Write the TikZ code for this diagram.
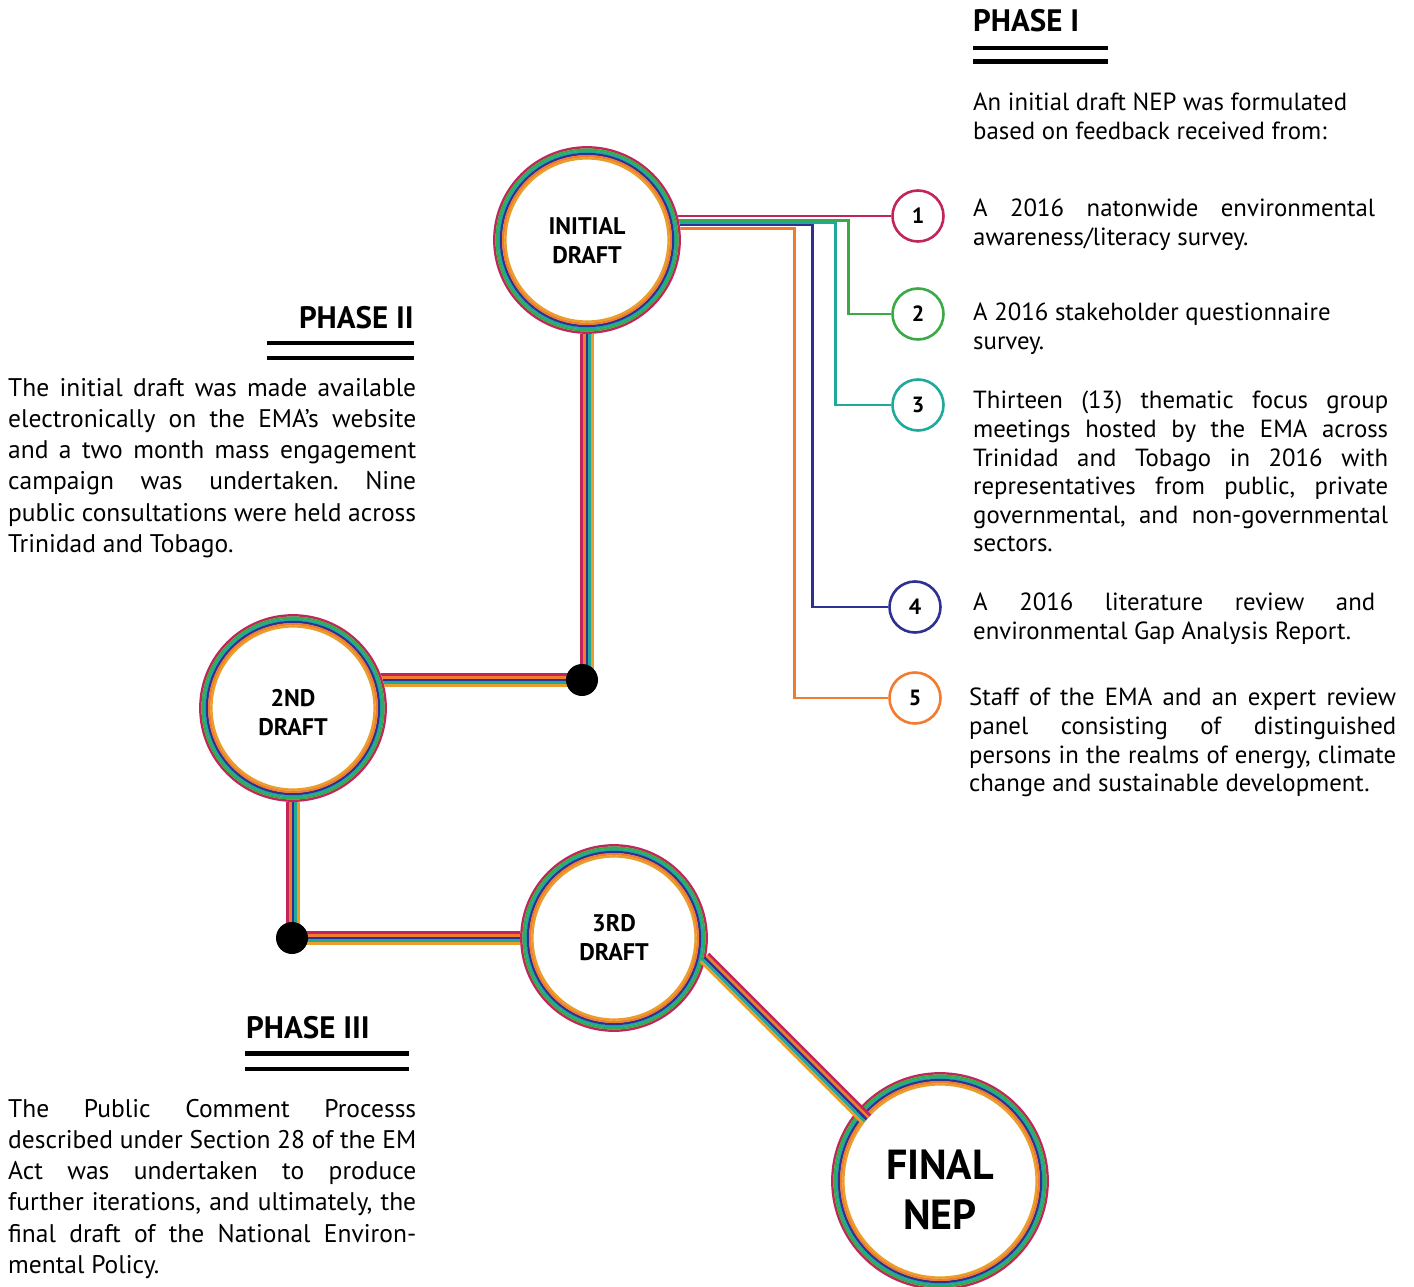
\documentclass[tikz,border=0pt]{standalone}
\usepackage{fontspec}
\setmainfont{PT Sans}
\usetikzlibrary{calc}
\pgfdeclarelayer{bg}
\pgfsetlayers{bg,main}
\frenchspacing
\definecolor{cr}{HTML}{C2255C}
\definecolor{gr}{HTML}{3AAA47}
\definecolor{tl}{HTML}{1FA99B}
\definecolor{bl}{HTML}{2E3092}
\definecolor{orn}{HTML}{F37B2E}
\definecolor{yo}{HTML}{E99E2C}
\newcommand\jl[2]{\makebox[#1][s]{#2}}
\newcommand\ringat[2]{%
  \foreach \c/\d in {cr/1.3, gr/3.6, tl/5.8, bl/8.0, orn/10.2, yo/12.4}{%
    \draw[\c, line width=2.4pt] (#1.center) circle[radius=#2-\d];}}
\newcommand\stripes[4]{%
  \foreach \c [count=\k from -2] in {cr,orn,bl,tl,yo}{%
    \pgfmathsetmacro\sx{\k*(#3)}\pgfmathsetmacro\sy{\k*(#4)}%
    \draw[\c, line width=2.7pt, transform canvas={shift={(\sx,\sy)}}] (#1) -- (#2);}}
\begin{document}
\frenchspacing
\begin{tikzpicture}[x=1pt,y=-1pt,
  draft/.style={circle, fill=white, inner sep=0pt},
  dtext/.style={inner sep=0pt, align=center, font=\bfseries\fontsize{24}{29}\selectfont},
  numc/.style={circle, draw=#1, line width=2.6pt, fill=white, minimum size=51pt, inner sep=0pt, font=\bfseries\fontsize{22}{24}\selectfont},
  dotn/.style={circle, fill=black, minimum size=32pt, inner sep=0pt},
  head/.style={inner sep=0pt, font=\bfseries\fontsize{31}{36}\selectfont},
  lbody/.style={inner sep=0pt, align=left, anchor=north west, font=\fontsize{25.5}{31.2}\selectfont},
  rbody/.style={inner sep=0pt, align=left, anchor=north west, font=\fontsize{24.8}{28.6}\selectfont},
  bar/.style={line width=4.5pt},
  feed/.style={line width=2.6pt}
]
\useasboundingbox (0,0) rectangle (1414,1287);

% draft circles
\node[draft, minimum size=188pt] (init) at (587,240) {};
\ringat{init}{94}
\node[dtext] (initt) at ($(init.center)+(0,1)$) {INITIAL\\DRAFT};
\node[draft, minimum size=188pt] (d2) at (293,708) {};
\ringat{d2}{94}
\node[dtext] (d2t) at ($(d2.center)+(0,5)$) {2ND\\DRAFT};
\node[draft, minimum size=188pt] (d3) at (614,938) {};
\ringat{d3}{94}
\node[dtext] (d3t) at ($(d3.center)+(0,0)$) {3RD\\DRAFT};
\node[draft, minimum size=218pt] (fin) at (940,1181) {};
\ringat{fin}{109}
\node[dtext, font=\bfseries\fontsize{42}{50}\selectfont] (fint) at ($(fin.center)+(0,9)$) {FINAL\\NEP};

% diagonal connector 3rd draft -> final (over the final ring)
\stripes{$(d3.center)+(90.5,19.5)$}{$(fin.center)+(-73.6,-61.6)$}{-1.9}{1.9}

% junction dots
\node[dotn] (dot1) at (582,680) {};
\node[dotn] (dot2) at (292,938) {};

% numbered circles
\node[numc=cr]  (n1) at (918,216) {1};
\node[numc=gr]  (n2) at (918,314) {2};
\node[numc=tl]  (n3) at (918,405) {3};
\node[numc=bl]  (n4) at (915,607) {4};
\node[numc=orn] (n5) at (915,698) {5};

\begin{pgfonlayer}{bg}
  \stripes{init.center}{init.center |- dot1.center}{2.7}{0}
  \stripes{dot1.center}{dot1.center -| d2.center}{0}{2.7}
  \stripes{d2.center}{d2.center |- dot2.center}{2.7}{0}
  \stripes{dot2.center}{dot2.center -| d3.center}{0}{2.7}
  \draw[feed, cr]  ($(init.center)+(0,-24)$) -- (n1.west);
  \draw[feed, gr]  ($(init.center)+(0,-19.6)$) -| ($(n2.west)+(-43,0)$) -- (n2.west);
  \draw[feed, tl]  ($(init.center)+(0,-17.3)$) -| ($(n3.west)+(-56,0)$) -- (n3.west);
  \draw[feed, bl]  ($(init.center)+(0,-15)$) -| ($(n4.west)+(-76,0)$) -- (n4.west);
  \draw[feed, orn] ($(init.center)+(0,-11.3)$) -| ($(n5.west)+(-94,0)$) -- (n5.west);
\end{pgfonlayer}

% headings
\node[head, anchor=base west] (h1) at (973,32) {PHASE I};
\draw[bar] (973,48) -- (1108,48);
\draw[bar] (973,61.5) -- (1108,61.5);
\node[head, anchor=base east] (h2) at (414,328) {PHASE II};
\draw[bar] (267,343) -- (414,343);
\draw[bar] (267,358) -- (414,358);
\node[head, anchor=base west] (h3) at (246,1038) {PHASE III};
\draw[bar] (245,1053.5) -- (409,1053.5);
\draw[bar] (245,1069) -- (409,1069);

% left texts
\node[lbody] (t2) at (8,378) {\jl{408pt}{The initial draft was made available}\\
\jl{408pt}{electronically on the EMA’s website}\\
\jl{408pt}{and a two month mass engagement}\\
\jl{408pt}{campaign was undertaken. Nine}\\
\jl{408pt}{public consultations were held across}\\
Trinidad and Tobago.};
\node[lbody] (t3) at (8,1099) {\jl{408pt}{The Public Comment Processs}\\
\jl{408pt}{described under Section 28 of the EM}\\
\jl{408pt}{Act was undertaken to produce}\\
\jl{408pt}{further iterations, and ultimately, the}\\
\jl{408pt}{final draft of the National Environ-}\\
mental Policy.};

% right texts
\node[rbody] (t1) at (973,93) {An initial draft NEP was formulated\\based on feedback received from:};
\node[rbody] (i1) at (973,199) {\jl{402pt}{A 2016 natonwide environmental}\\awareness/literacy survey.};
\node[rbody] (i2) at (973,303) {A 2016 stakeholder questionnaire\\survey.};
\node[rbody] (i3) at (973,391) {\jl{415pt}{Thirteen (13) thematic focus group}\\
\jl{415pt}{meetings hosted by the EMA across}\\
\jl{415pt}{Trinidad and Tobago in 2016 with}\\
\jl{415pt}{representatives from public, private}\\
\jl{415pt}{governmental, and non-governmental}\\
sectors.};
\node[rbody] (i4) at (973,593) {\jl{402pt}{A 2016 literature review and}\\environmental Gap Analysis Report.};
\node[rbody] (i5) at (969,688) {\jl{427pt}{Staff of the EMA and an expert review}\\
\jl{427pt}{panel consisting of distinguished}\\
\jl{427pt}{persons in the realms of energy, climate}\\
change and sustainable development.};
\end{tikzpicture}
\end{document}
